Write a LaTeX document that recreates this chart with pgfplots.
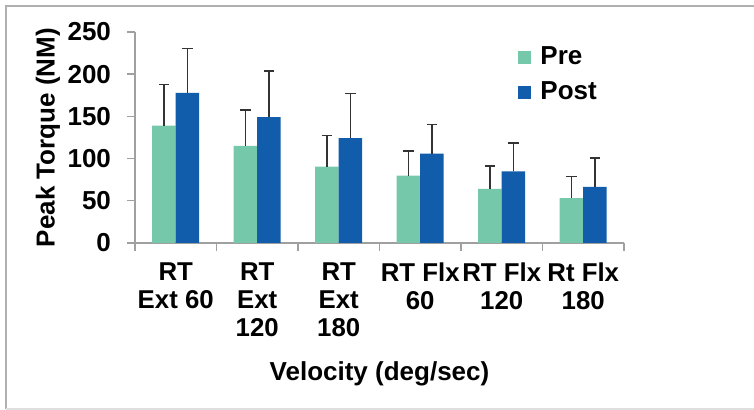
\documentclass[border=0pt]{standalone}
\usepackage{pgfplots}
\pgfplotsset{compat=1.18}
\usepackage{pgfplotstable}
\usepackage{fontspec}
\setmainfont{Liberation Sans}
\definecolor{preC}{HTML}{76C8AA}
\definecolor{postC}{HTML}{115CAB}
\definecolor{axC}{HTML}{A0A0A0}
\definecolor{frameC}{HTML}{B0B0B0}
\definecolor{errC}{HTML}{333333}
\pgfplotstableread{
x y err
0 139.0 48.5
1 115.0 42.6
2 90.6 36.6
3 79.8 29.2
4 64.0 27.0
5 53.3 25.7
}\pre
\pgfplotstableread{
x y err
0 178.0 52.3
1 149.0 55.0
2 124.4 52.6
3 105.8 34.8
4 85.0 33.5
5 66.5 34.1
}\post
\begin{document}
\begin{tikzpicture}
\useasboundingbox (-67.5pt,-83.5pt) rectangle (309.5pt,121.5pt);
\draw[frameC, line width=0.75pt] (-64.5pt,-83pt) -- (-64.5pt,118.5pt) -- (309.5pt,118.5pt);
\draw[frameC!40, line width=0.6pt] (-64.5pt,-83pt) -- (309.5pt,-83pt);
\begin{axis}[
  scale only axis,
  width=244.5pt, height=105.5pt,
  at={(0,0)}, anchor=south west,
  xmin=-0.5, xmax=5.5, ymin=0, ymax=250,
  ybar=0pt, bar width=11.75pt,
  axis lines*=left,
  axis line style={axC, line width=0.7pt},
  tick align=outside,
  major tick length=4pt,
  tick style={axC, line width=0.7pt},
  ytick={0,50,100,150,200,250},
  xtick={-0.5,0.5,1.5,2.5,3.5,4.5,5.5},
  xticklabels={},
  extra x ticks={0,1,2,3,4,5},
  extra x tick labels={{RT\\Ext 60},{RT\\Ext\\120},{RT\\Ext\\180},{RT Flx\\60},{RT Flx\\120},{Rt Flx\\180}},
  extra x tick style={major tick length=0pt},
  xticklabel style={align=center, font=\fontsize{12.9}{14}\selectfont\bfseries, yshift=-6.3pt},
  yticklabel style={font=\fontsize{13}{14}\selectfont\bfseries, xshift=-4.5pt},
  /pgf/number format/assume math mode=true,
  ylabel={Peak Torque (NM)},
  ylabel style={font=\fontsize{13}{14}\selectfont\bfseries, at={(axis description cs:0,0.5)}, anchor=center, yshift=43.5pt},
  xlabel={Velocity (deg/sec)},
  xlabel style={font=\fontsize{13}{14}\selectfont\bfseries, at={(axis description cs:0.5,0)}, yshift=-65.5pt, anchor=center},
  legend style={at={(rel axis cs:0.783,0.95)}, anchor=north west, draw=none, fill=none,
    font=\fontsize{13}{14}\selectfont\bfseries, row sep=3pt, inner sep=0pt,
    nodes={inner xsep=4.5pt}},
  legend cell align=left,
  legend image code/.code={\fill[#1] (0pt,-3.3pt) rectangle (6.6pt,3.3pt);},
  error bars/y dir=plus, error bars/y explicit,
  error bars/error bar style={errC, line width=0.75pt},
  error bars/error mark options={rotate=90, mark size=2.6pt, line width=0.75pt, errC},
]
\addplot[fill=preC, draw=none] table[x=x, y=y, y error=err] {\pre};
\addplot[fill=postC, draw=none] table[x=x, y=y, y error=err] {\post};
\legend{Pre, Post}
\end{axis}
\end{tikzpicture}
\end{document}
